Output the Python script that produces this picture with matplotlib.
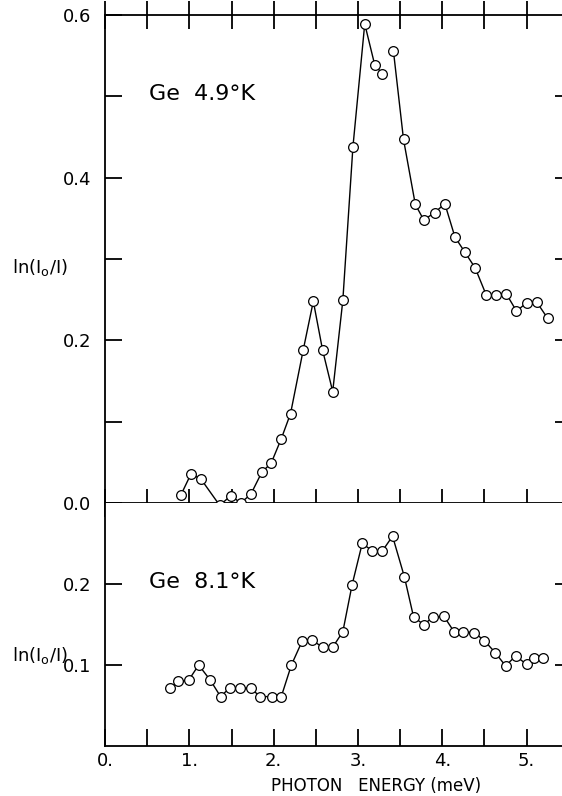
"""Ge far-infrared absorption, two temperatures."""
import matplotlib
matplotlib.use('Agg')
import matplotlib.pyplot as plt

plt.rcParams['font.family'] = ['DejaVu Sans']
plt.rcParams['mathtext.default'] = 'regular'

# photon energy (meV) and ln(I0/I)
E_49 = [0.90, 1.02, 1.14, 1.36, 1.49, 1.61, 1.73, 1.86, 1.97, 2.09, 2.20, 2.35,
        2.47, 2.58, 2.70, 2.82, 2.94, 3.08, 3.20, 3.29, 3.42, 3.54, 3.68, 3.78,
        3.91, 4.03, 4.15, 4.27, 4.39, 4.52, 4.64, 4.76, 4.88, 5.00, 5.12, 5.25]
A_49 = [0.010, 0.036, 0.029, -0.003, 0.009, 0.000, 0.011, 0.038, 0.049, 0.079,
        0.110, 0.188, 0.248, 0.188, 0.137, 0.249, 0.438, 0.589, 0.538, 0.528,
        0.556, 0.447, 0.367, 0.348, 0.357, 0.368, 0.327, 0.308, 0.289, 0.256,
        0.256, 0.257, 0.236, 0.246, 0.247, 0.227]

E_81 = [0.77, 0.87, 0.99, 1.11, 1.25, 1.37, 1.48, 1.60, 1.73, 1.84, 1.98, 2.09,
        2.21, 2.34, 2.45, 2.58, 2.70, 2.82, 2.93, 3.05, 3.17, 3.29, 3.41, 3.55,
        3.66, 3.78, 3.89, 4.02, 4.14, 4.25, 4.38, 4.50, 4.63, 4.75, 4.87, 5.00,
        5.09, 5.20]
A_81 = [0.071, 0.080, 0.081, 0.100, 0.081, 0.061, 0.072, 0.072, 0.071, 0.061,
        0.061, 0.061, 0.100, 0.130, 0.131, 0.122, 0.122, 0.141, 0.199, 0.250,
        0.241, 0.241, 0.259, 0.209, 0.159, 0.150, 0.159, 0.160, 0.141, 0.141,
        0.140, 0.130, 0.115, 0.099, 0.111, 0.101, 0.109, 0.109]

XTICKS = [0, 1, 2, 3, 4, 5]
XTICK_LABELS = ['0.', '1.', '2.', '3.', '4.', '5.']
YTICKS_TOP = [0.0, 0.2, 0.4, 0.6]
YTICK_LABELS_TOP = ['0.0', '0.2', '0.4', '0.6']
YTICKS_BOT = [0.1, 0.2]
YTICK_LABELS_BOT = ['0.1', '0.2']

fig = plt.figure(figsize=(5.62, 7.96), dpi=100)
L, R = 0.187, 1.0
ax1 = fig.add_axes([L, 0.3681, R - L, 0.9812 - 0.3681])
ax2 = fig.add_axes([L, 0.0628, R - L, 0.3681 - 0.0628])

line = dict(color='black', lw=1.0, zorder=2)
mk = dict(ls='none', marker='o', ms=7, mfc='white', mec='black', mew=0.9,
          zorder=3, clip_on=False)

# the 3.29 -> 3.42 segment is not drawn in the original
ax1.plot(E_49[:20], A_49[:20], **line)
ax1.plot(E_49[20:], A_49[20:], **line)
ax1.plot(E_49, A_49, **mk)
ax2.plot(E_81, A_81, **line)
ax2.plot(E_81, A_81, **mk)

ax1.set_xlim(0, 5.42)
ax1.set_ylim(0, 0.6)
ax2.set_xlim(0, 5.42)
ax2.set_ylim(0, 0.3)

for ax in (ax1, ax2):
    ax.spines['right'].set_visible(False)
    for s in ax.spines.values():
        s.set_linewidth(1.3)
    ax.set_xticks([i * 0.5 for i in range(11)])

# top panel
ax1.set_yticks([i * 0.1 for i in range(7)])
ax1.set_yticklabels([YTICK_LABELS_TOP[YTICKS_TOP.index(round(t, 1))]
                     if round(t, 1) in YTICKS_TOP else '' for t in ax1.get_yticks()])
ax1.tick_params(axis='x', which='both', top=True, bottom=True, labelbottom=False,
                direction='inout', length=20, width=1.3)
ax1.tick_params(axis='y', which='both', direction='in', length=12, width=1.3,
                left=True, right=False, labelsize=13, pad=10)
ax1r = ax1.secondary_yaxis('right')
ax1r.set_yticks([i * 0.1 for i in range(1, 6)])
ax1r.set_yticklabels([])
ax1r.tick_params(direction='in', length=5, width=1.3)
ax1r.spines['right'].set_visible(False)

# bottom panel
ax2.spines['top'].set_visible(False)
ax2.set_yticks(YTICKS_BOT)
ax2.set_yticklabels(YTICK_LABELS_BOT)
ax2.tick_params(axis='y', which='both', direction='in', length=12, width=1.3,
                left=True, right=False, labelsize=13, pad=10)
ax2r = ax2.secondary_yaxis('right')
ax2r.set_yticks([0.1, 0.2])
ax2r.set_yticklabels([])
ax2r.tick_params(direction='in', length=5, width=1.3)
ax2r.spines['right'].set_visible(False)
ax2.set_xticklabels([XTICK_LABELS[XTICKS.index(int(t))] if t == int(t) else ''
                     for t in ax2.get_xticks()])
ax2.tick_params(axis='x', which='both', direction='in', length=12, width=1.3,
                top=False, labelsize=13, pad=4)

ax1.text(0.52, 0.503, 'Ge  4.9°K', fontsize=16, va='center', ha='left')
ax2.text(0.52, 0.202, 'Ge  8.1°K', fontsize=16, va='center', ha='left')

fig.text(40 / 562, 1 - 268 / 796, 'ln(I$_o$/I)', fontsize=13, ha='center', va='center')
fig.text(40 / 562, 1 - 655 / 796, 'ln(I$_o$/I)', fontsize=13, ha='center', va='center')
fig.text(376 / 562, 1 - 786 / 796, 'PHOTON   ENERGY (meV)', fontsize=12,
         ha='center', va='center')

fig.savefig('out.png', dpi=100)
